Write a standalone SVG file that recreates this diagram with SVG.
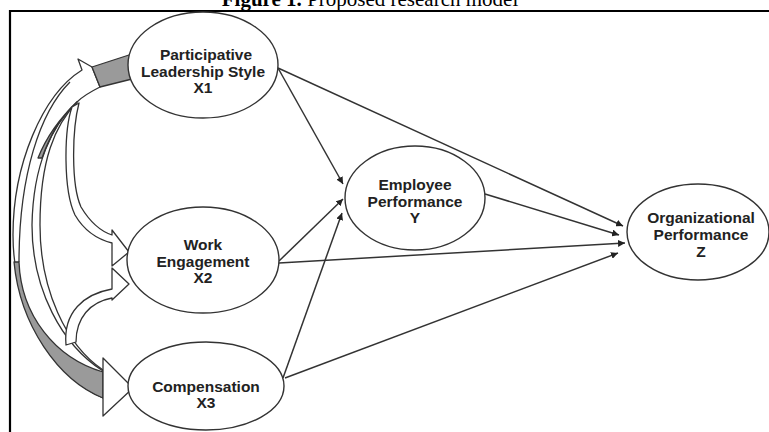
<svg xmlns="http://www.w3.org/2000/svg" width="769" height="432" viewBox="0 0 769 432">
<defs>
<marker id="ah" viewBox="0 0 10 10" refX="10" refY="5" markerWidth="7" markerHeight="7" markerUnits="userSpaceOnUse" orient="auto">
<path d="M0,0 L10,5 L0,10 Z" fill="#222"/>
</marker>
<style>
.node ellipse{fill:#fff;stroke:#333;stroke-width:1.4}
.node text{font-family:"Liberation Sans",Arial,sans-serif;font-weight:bold;font-size:15.5px;fill:#222;text-anchor:middle}
.conn line{stroke:#333;stroke-width:1.5;marker-end:url(#ah)}
.rib{stroke:#333;stroke-width:1.3;fill:#fff;stroke-linejoin:round}
.ribg{stroke:#333;stroke-width:1.3;fill:#9a9a9a;stroke-linejoin:round}
.ln{stroke:#333;stroke-width:1.3;fill:none}
.cap{font-family:"Liberation Serif","Times New Roman",serif;font-size:21px;fill:#000}
</style>
</defs>
<rect width="769" height="432" fill="#fff"/>
<text class="cap" x="370" y="6" text-anchor="middle"><tspan font-weight="bold">Figure 1.</tspan> Proposed research model</text>
<line x1="9" y1="11" x2="769" y2="11" stroke="#000" stroke-width="2.2"/>
<line x1="10" y1="10" x2="10" y2="432" stroke="#000" stroke-width="2.2"/>

<g id="correlations">
<path class="rib" d="M78,59 L92,67 L100,87 C88,93 82,97 77,102 C55,125 40,160 40,225 C40,290 66,345 103,370 L103,398 C55,378 13,310 13,235 C13,165 42,95 82,70 Z"/>
<path class="ribg" d="M92,67 L132,54 L132,79 L100,87 Z"/>
<path class="ln" d="M70,82 C40,112 19,175 19,262"/>
<path class="ribg" d="M19,262 C21,315 55,358 103,372 L103,398 C58,380 20,325 14,262 Z"/>
<path class="ln" d="M77,102 C52,125 33,165 32,225 C32,290 62,345 103,371"/>
<path class="ribg" d="M77,102 C60,118 46,138 38,158 L42,158 C50,135 62,115 77,102 Z"/>
<polygon class="rib" points="103,358 133,388 103,416"/>
<path class="rib" d="M72,107 C64,130 63,190 75,215 C85,232 100,240 112,243 L112,266 L129,252 L112,230 L112,235 C100,231 90,222 81,207 C71,185 72,130 79,103 Z"/>
<path class="rib" d="M66,345 C63,312 84,294 112,289 L112,268 L129,284 L112,300 L112,298 C90,302 76,318 76,342 Z"/>
</g>

<g id="connectors" class="conn">
<line x1="278" y1="68" x2="343" y2="184"/>
<line x1="278" y1="68" x2="623" y2="226"/>
<line x1="279" y1="261" x2="343" y2="199"/>
<line x1="283" y1="378" x2="342" y2="213"/>
<line x1="485" y1="194" x2="619" y2="235"/>
<line x1="279" y1="263" x2="625" y2="243"/>
<line x1="285" y1="378" x2="618" y2="253"/>
</g>

<g id="X1" class="node">
<ellipse cx="203" cy="65" rx="75" ry="53"/>
<text x="206" y="60">Participative</text>
<text x="203" y="77">Leadership Style</text>
<text x="203" y="93">X1</text>
</g>
<g id="X2" class="node">
<ellipse cx="203" cy="260" rx="76" ry="53"/>
<text x="203" y="250">Work</text>
<text x="203" y="267">Engagement</text>
<text x="203" y="283">X2</text>
</g>
<g id="X3" class="node">
<ellipse cx="206" cy="386" rx="78" ry="44"/>
<text x="206" y="392">Compensation</text>
<text x="206" y="408">X3</text>
</g>
<g id="Y" class="node">
<ellipse cx="415" cy="198" rx="70" ry="52"/>
<text x="415" y="190">Employee</text>
<text x="415" y="207">Performance</text>
<text x="415" y="223">Y</text>
</g>
<g id="Z" class="node">
<ellipse cx="698" cy="232" rx="71" ry="48"/>
<text x="701" y="223">Organizational</text>
<text x="701" y="240">Performance</text>
<text x="701" y="257">Z</text>
</g>
</svg>
